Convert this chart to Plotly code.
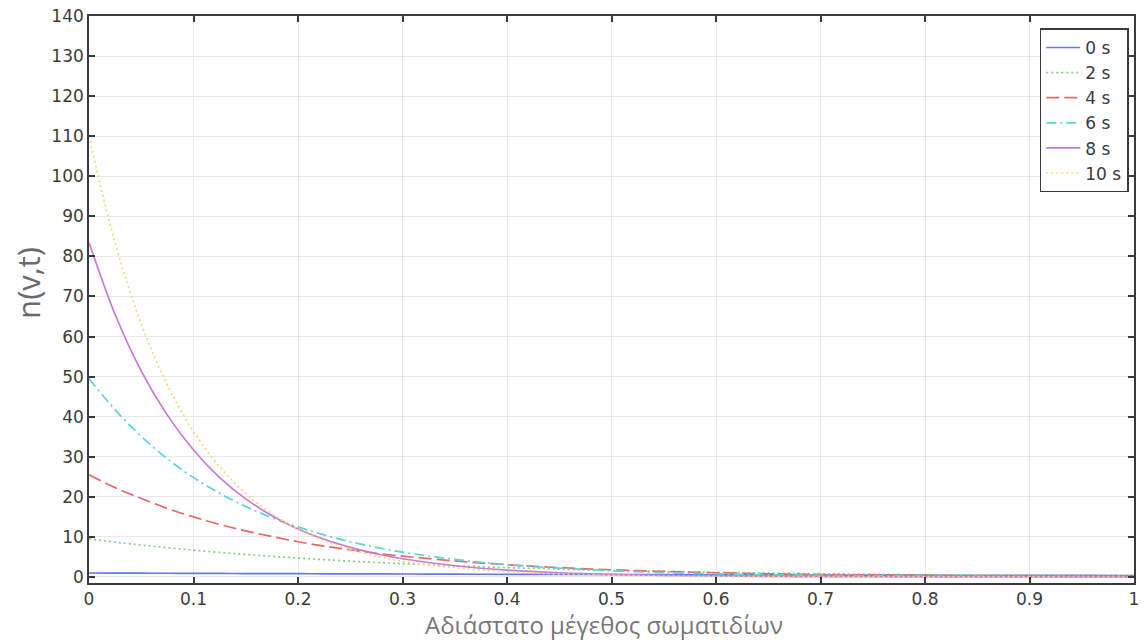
import plotly.graph_objects as go

# Dimensionless particle size (denser sampling where the curves are steep)
v = [0.000, 0.025, 0.050, 0.075, 0.100, 0.125, 0.150, 0.175, 0.200, 0.225,
     0.250, 0.275, 0.300, 0.35, 0.40, 0.45, 0.50, 0.55, 0.60, 0.65, 0.70,
     0.75, 0.80, 0.85, 0.90, 0.95, 1.00]

# Number density n(v,t) at each time
n_0s = [1.00, 0.975, 0.95, 0.928, 0.90, 0.882, 0.86, 0.839, 0.82, 0.799,
        0.78, 0.76, 0.74, 0.70, 0.67, 0.64, 0.61, 0.58, 0.55, 0.52, 0.50,
        0.47, 0.45, 0.43, 0.41, 0.39, 0.37]
n_2s = [9.5, 8.70, 7.97, 7.31, 6.69, 6.13, 5.62, 5.15, 4.72, 4.32,
        3.96, 3.63, 3.33, 2.79, 2.34, 1.97, 1.65, 1.39, 1.16, 0.98, 0.82,
        0.69, 0.58, 0.49, 0.41, 0.34, 0.29]
n_4s = [25.5, 22.3, 19.6, 17.1, 15.0, 13.1, 11.5, 10.1, 8.8, 7.7,
        6.8, 5.9, 5.2, 4.0, 3.06, 2.35, 1.80, 1.38, 1.06, 0.81, 0.62,
        0.48, 0.37, 0.28, 0.22, 0.17, 0.13]
n_6s = [49.5, 41.7, 35.1, 29.5, 24.8, 20.9, 17.6, 14.8, 12.5, 10.5,
        8.8, 7.4, 6.2, 4.4, 3.1, 2.2, 1.57, 1.11, 0.79, 0.56, 0.40,
        0.28, 0.20, 0.14, 0.10, 0.07, 0.05]
n_8s = [83.5, 65.5, 51.4, 40.4, 31.7, 24.8, 19.5, 15.3, 12.0, 9.4,
        7.4, 5.8, 4.55, 2.8, 1.73, 1.06, 0.65, 0.40, 0.25, 0.15, 0.09,
        0.06, 0.04, 0.02, 0.01, 0.01, 0.00]
n_10s = [110.0, 83.4, 63.1, 47.9, 36.3, 27.5, 20.8, 15.8, 11.9, 9.1,
         6.9, 5.2, 3.9, 2.3, 1.3, 0.74, 0.43, 0.25, 0.14, 0.08, 0.05,
         0.03, 0.02, 0.01, 0.01, 0.00, 0.00]

labels = ["0 s", "2 s", "4 s", "6 s", "8 s", "10 s"]
series = [n_0s, n_2s, n_4s, n_6s, n_8s, n_10s]
colors = ["#6478ea", "#86cf86", "#e46a6a", "#5fd3da", "#c77ad6", "#f4d67e"]
dashes = ["solid", "2px,3px", "13px,5px", "10px,4px,2px,4px", "solid", "2px,3px"]

x_ticks = [0, 0.1, 0.2, 0.3, 0.4, 0.5, 0.6, 0.7, 0.8, 0.9, 1]
x_tick_text = ["0", "0.1", "0.2", "0.3", "0.4", "0.5", "0.6", "0.7", "0.8", "0.9", "1"]
y_ticks = [0, 10, 20, 30, 40, 50, 60, 70, 80, 90, 100, 110, 120, 130, 140]

FONT = "Open Sans, Noto Sans, DejaVu Sans, sans-serif"
TICK_FONT = "DejaVu Sans, Open Sans, sans-serif"

fig = go.Figure()
for name, y, c, d in zip(labels, series, colors, dashes):
    fig.add_trace(go.Scatter(
        x=v, y=y, name=name, mode="lines",
        line=dict(color=c, width=1.7, dash=d, shape="spline", smoothing=1.0),
    ))

axis_common = dict(
    showline=True, linecolor="#3a3a3a", linewidth=1.6, mirror="allticks",
    ticks="inside", ticklen=6, tickwidth=1.6, tickcolor="#3a3a3a",
    showgrid=True, gridcolor="#e8e8e8", gridwidth=1, zeroline=False,
    tickfont=dict(family=TICK_FONT, size=17, color="#3c3c3c"),
)

fig.update_xaxes(range=[0, 1], tickmode="array", tickvals=x_ticks,
                 ticktext=x_tick_text, ticklabelstandoff=0, **axis_common)
fig.update_yaxes(range=[-1.5, 140], tickmode="array", tickvals=y_ticks,
                 **axis_common)

fig.update_layout(
    width=1145, height=641,
    margin=dict(l=89, r=6, t=14, b=58),
    paper_bgcolor="white", plot_bgcolor="white",
    showlegend=True,
    legend=dict(
        x=0.995, xanchor="right", y=0.978, yanchor="top",
        bgcolor="white", bordercolor="#3a3a3a", borderwidth=1.5,
        font=dict(family=TICK_FONT, size=17, color="#3c3c3c"),
        tracegroupgap=0, itemwidth=34,
    ),
    annotations=[
        dict(text="n(v,t)", xref="paper", yref="paper", x=-0.058, y=0.53,
             xanchor="center", yanchor="middle", textangle=-90, showarrow=False,
             font=dict(family=FONT, size=31, color="#6a6a6a")),
        dict(text="Αδιάστατο μέγεθος σωματιδίων", xref="paper", yref="paper",
             x=0.493, y=-0.0738, xanchor="center", yanchor="middle", showarrow=False,
             font=dict(family=FONT, size=24, color="#777777")),
    ],
)

fig.write_html("out.html")
